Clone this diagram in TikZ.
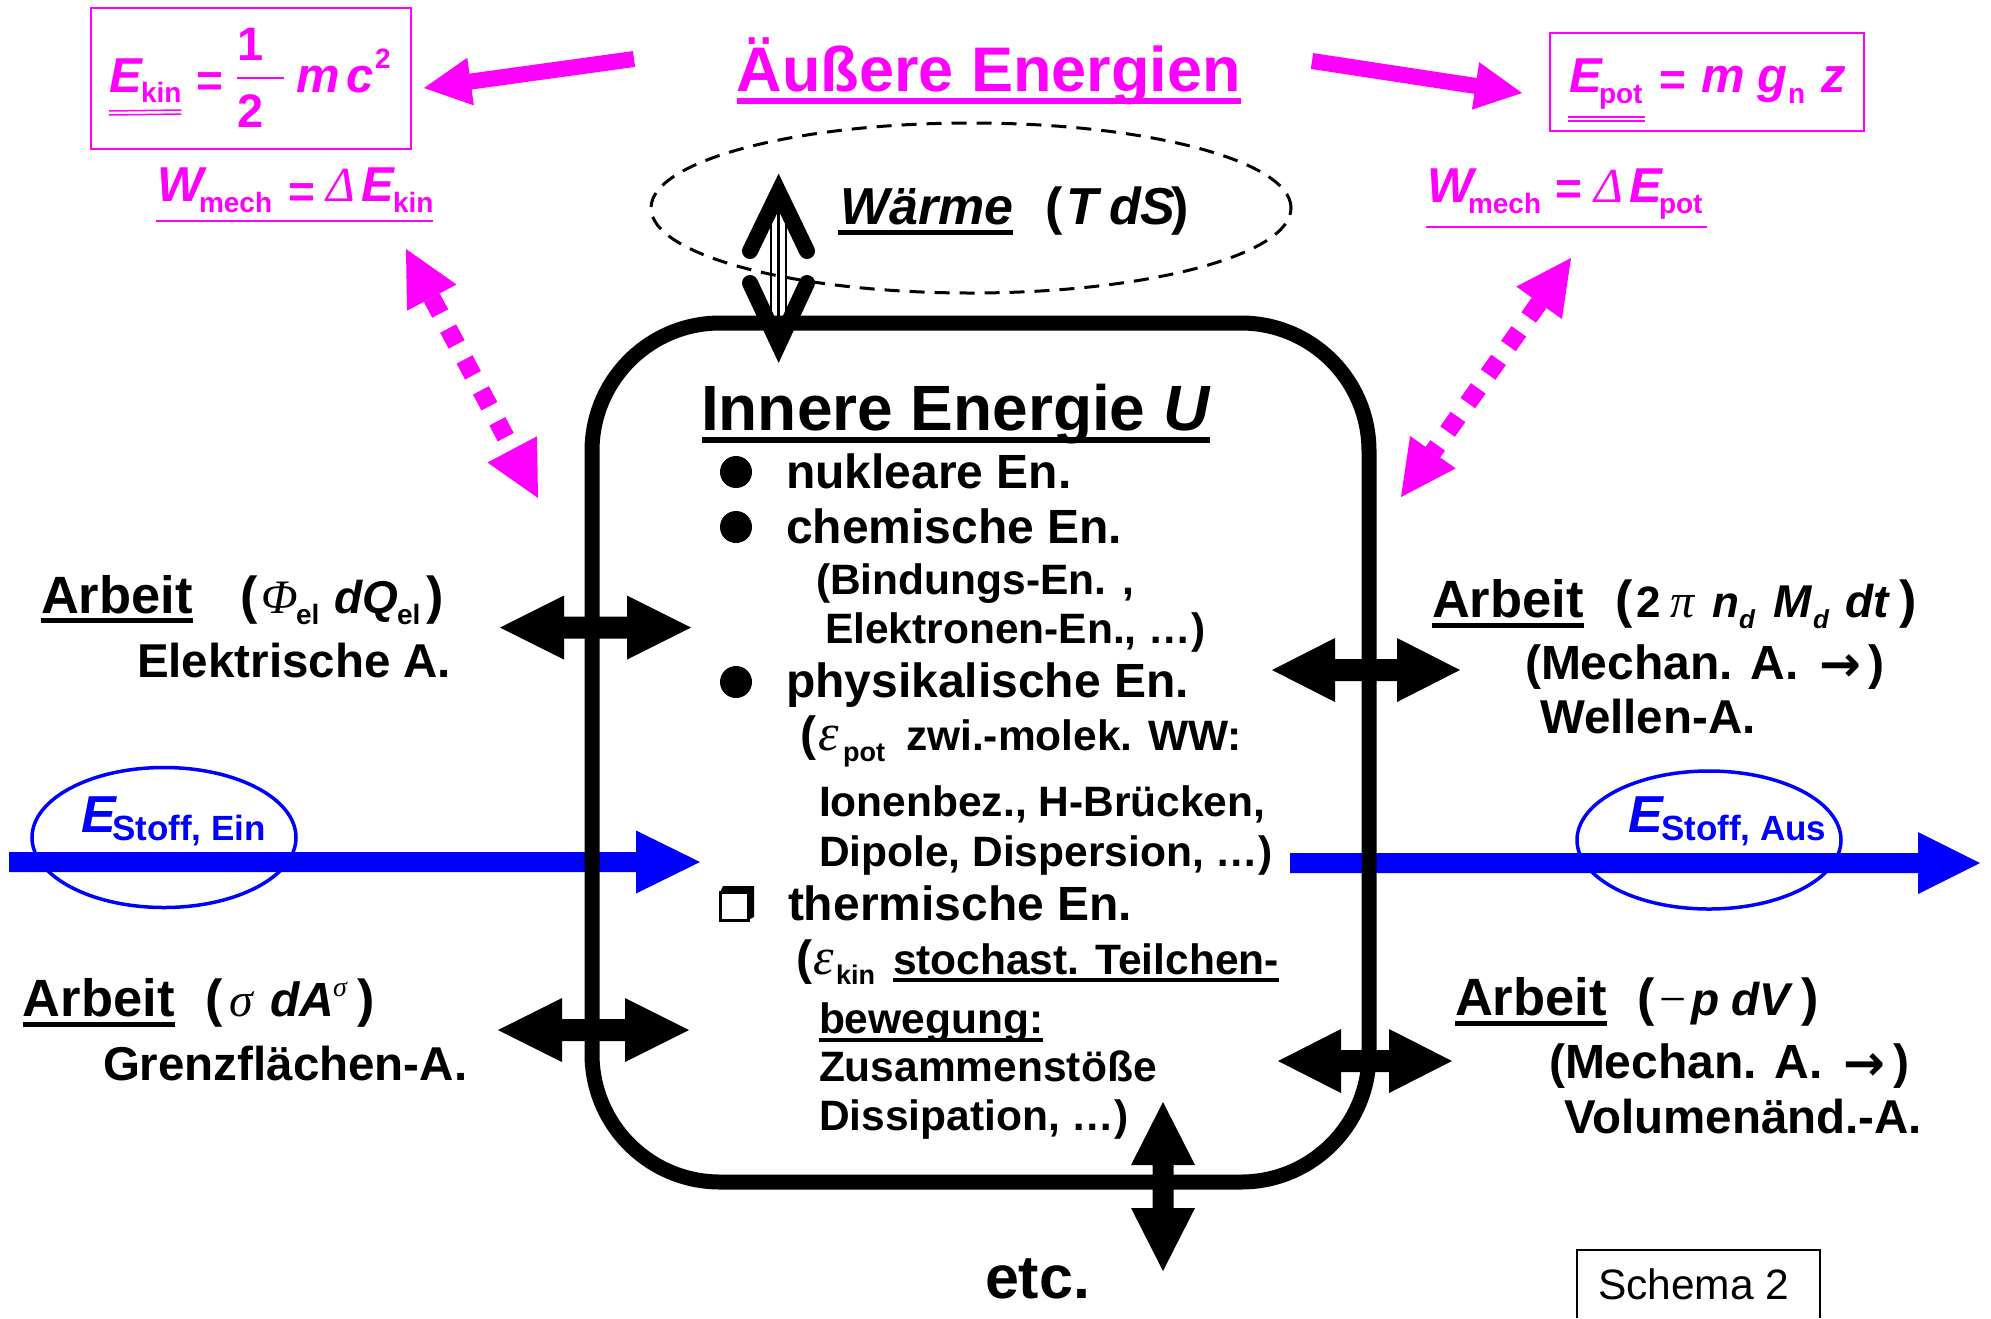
\documentclass[tikz,border=0pt]{standalone}
\usepackage{fontspec}
\setmainfont{Liberation Sans}
\newfontfamily\grk{Liberation Serif}
\newfontfamily\dvs{DejaVu Sans}
\usetikzlibrary{calc}
\definecolor{mag}{RGB}{255,0,255}
\definecolor{blu}{RGB}{0,0,255}
\newcommand\fs[1]{\fontsize{#1}{#1}\selectfont}
% horizontal double block arrow: y, xleft, xright, head length
\newcommand\harr[4]{%
 \fill (#2,#1) -- ({#2+#4},{#1-32}) -- ({#2+#4},{#1-11}) -- ({#3-#4},{#1-11}) -- ({#3-#4},{#1-32}) -- (#3,#1)
  -- ({#3-#4},{#1+32}) -- ({#3-#4},{#1+11}) -- ({#2+#4},{#1+11}) -- ({#2+#4},{#1+32}) -- cycle;}
% vertical double block arrow: x, ytop, ybottom, head length
\newcommand\varr[4]{%
 \fill (#1,#2) -- ({#1-32},{#2+#4}) -- ({#1-10.5},{#2+#4}) -- ({#1-10.5},{#3-#4}) -- ({#1-32},{#3-#4}) -- (#1,#3)
  -- ({#1+32},{#3-#4}) -- ({#1+10.5},{#3-#4}) -- ({#1+10.5},{#2+#4}) -- ({#1+32},{#2+#4}) -- cycle;}
% slanted block arrow from tail #1 to tip #2
\newcommand\polyarrow[6]{%
 \coordinate (#6c) at ($(#2)!#4!(#1)$);
 \fill ($(#1)!#3!90:(#2)$) -- ($(#6c)!#3!90:(#2)$) -- ($(#6c)!#5!90:(#2)$) -- (#2)
  -- ($(#6c)!#5!-90:(#2)$) -- ($(#6c)!#3!-90:(#2)$) -- ($(#1)!#3!-90:(#2)$) -- cycle;}
% dotted double arrow between tips #1 and #2
\newcommand\dotarrow[3]{%
 \coordinate (#3a) at ($(#1)!55pt!(#2)$);
 \coordinate (#3b) at ($(#2)!55pt!(#1)$);
 \fill (#1) -- ($(#3a)!28pt!90:(#1)$) -- ($(#3a)!28pt!-90:(#1)$) -- cycle;
 \fill (#2) -- ($(#3b)!28pt!90:(#2)$) -- ($(#3b)!28pt!-90:(#2)$) -- cycle;
 \draw[line width=18pt, dash pattern=on 18pt off 17pt] (#3a) -- (#3b);}
\begin{document}
\begin{tikzpicture}[x=1pt,y=-1pt,
  T/.style={inner sep=0pt, outer sep=0pt, anchor=base west},
  B/.style={T, font=\fs{#1}\bfseries},
  BI/.style={T, font=\fs{#1}\bfseries\itshape},
  G/.style={T, font=\fs{#1}\grk\itshape},
  AR/.style={T, font=\fs{#1}\dvs\bfseries}]
\useasboundingbox (0,0) rectangle (1991,1318);
\fill[white] (0,0) rectangle (1991,1318);

% ---------- blue matter flows ----------
\fill[blu] (9,852) -- (636,852) -- (636,830.5) -- (700,862) -- (636,893.5) -- (636,872) -- (9,872) -- cycle;
\fill[blu] (1290,853) -- (1918,853) -- (1918,832) -- (1980,863) -- (1918,894) -- (1918,873) -- (1290,873) -- cycle;
\draw[blu, line width=3.5pt] (164,837.5) ellipse [x radius=132pt, y radius=70pt];
\draw[blu, line width=3.5pt] (1709,840) ellipse [x radius=132pt, y radius=69pt];
\node[BI=52, blu] (esE) at (81,832) {E};
\node[B=35, blu] (esS) at (112,840) {Stoff, Ein};
\node[BI=52, blu] (eaE) at (1628,832) {E};
\node[B=35, blu] (eaS) at (1661,840) {Stoff, Aus};

% ---------- system boundary ----------
\draw[line width=15pt, rounded corners=128pt] (592,323) rectangle (1369,1182);

% ---------- work arrows ----------
\harr{627.5}{500}{691}{64}
\harr{1030}{498}{689}{64}
\harr{670}{1272}{1460}{63}
\harr{1061}{1278}{1452}{63}
\varr{1163}{1102}{1271}{63}

% ---------- heat ----------
\draw[line width=3pt, dash pattern=on 15pt off 10pt] (971,208) ellipse [x radius=320pt, y radius=85pt];
\draw[line width=16pt, line cap=round, line join=miter] (750,251) -- (778.6,192) -- (807,251);
\draw[line width=16pt, line cap=round, line join=miter] (750,283) -- (778.6,344) -- (807,283);
\draw[line width=2.5pt] (771,208) -- (771,325) (778.6,208) -- (778.6,325) (786,208) -- (786,325);
\node[BI=52] (wae) at (840,224) {Wärme};
\draw[line width=5pt] ($(wae.base west)+(-2,8)$) -- ($(wae.base east)+(0,8)$);
\node[B=52] (wap1) at (1045,224) {(};
\node[BI=52] (waT) at (1066,224) {T};
\node[BI=52] (wadS) at (1109,224) {dS};
\node[B=52] (wap2) at (1171,224) {)};

% ---------- magenta: external energies ----------
\begin{scope}[mag]
\node[B=63, anchor=base] (ae) at (989,91) {Äußere Energien};
\draw[line width=6pt] ($(ae.base west)+(0,10)$) -- ($(ae.base east)+(0,10)$);
\coordinate (mlA) at (634,59); \coordinate (mlB) at (424,88);
\coordinate (mrA) at (1312,61); \coordinate (mrB) at (1522,93);
\polyarrow{mlA}{mlB}{8pt}{47pt}{24pt}{ml}
\polyarrow{mrA}{mrB}{8pt}{47pt}{24pt}{mr}
% kinetic
\draw[line width=2.5pt] (91,8) rectangle (411,149);
\node[BI=49] (ekE) at (109,92) {E};
\node[B=28] (ekkin) at (141,102) {kin};
\draw[line width=1.5pt] ($(ekE.base west)+(0,19)$) -- ($(ekkin.base east)+(0,8)$)
                         ($(ekE.base west)+(0,23)$) -- ($(ekkin.base east)+(0,12)$);
\node[B=46] (ekeq) at (196,96) {=};
\node[B=47, anchor=base] (ek1) at (251,60) {1};
\node[B=47, anchor=base] (ek2) at (251,127) {2};
\draw[line width=2pt] (237,78) -- (284,78);
\node[BI=49] (ekm) at (296,92) {m};
\node[BI=49] (ekc) at (346,92) {c};
\node[B=28] (eksq) at (375,68) {2};
\node[BI=49] (wlW) at (157,201) {W};
\node[B=28] (wlmech) at (199,212) {mech};
\node[B=46] (wleq) at (288,207) {=};
\node[G=49] (wlD) at (326,201) {Δ};
\node[BI=49] (wlE) at (361,201) {E};
\node[B=28] (wlkin) at (393,212) {kin};
\draw[line width=2.5pt] ($(wlW.base west)+(-1,20)$) -- ($(wlkin.base east)+(0,9)$);
% potential
\draw[line width=2.5pt] (1550,33) rectangle (1864,131);
\node[BI=49] (epE) at (1569,92) {E};
\node[B=28] (eppot) at (1599,103) {pot};
\draw[line width=1.5pt] ($(epE.base west)+(-1,25)$) -- ($(eppot.base east)+(2,14)$)
                         ($(epE.base west)+(-1,29)$) -- ($(eppot.base east)+(2,18)$);
\node[B=46] (epeq) at (1659,95.5) {=};
\node[BI=49] (epm) at (1701,92) {m};
\node[BI=49] (epg) at (1757,92) {g};
\node[B=28] (epn) at (1788,103) {n};
\node[BI=49] (epz) at (1821,92) {z};
\node[BI=49] (wrW) at (1427,202) {W};
\node[B=28] (wrmech) at (1468,213) {mech};
\node[B=46] (wreq) at (1555,204.5) {=};
\node[G=49] (wrD) at (1594,202) {Δ};
\node[BI=49] (wrE) at (1629,202) {E};
\node[B=28] (wrpot) at (1659,213) {pot};
\draw[line width=2.5pt] ($(wrW.base west)+(-1,25)$) -- ($(wrpot.base east)+(4,14)$);
% dotted exchange arrows
\coordinate (dl1) at (406,249); \coordinate (dl2) at (538,498);
\coordinate (dr1) at (1571,258); \coordinate (dr2) at (1401,497);
\dotarrow{dl1}{dl2}{dl}
\dotarrow{dr1}{dr2}{dr}
\end{scope}

% ---------- inner energy ----------
\node[B=64] (inn) at (701,430) {Innere Energie \itshape U};
\draw[line width=6pt] ($(inn.base west)+(1,10)$) -- ($(inn.base east)+(0,10)$);
\fill (736,472) circle [radius=16pt];
\fill (736,527) circle [radius=16pt];
\fill (736,682) circle [radius=16pt];
\node[B=48] (i1) at (786,488) {nukleare En.};
\node[B=48] (i2) at (786,543) {chemische En.};
\node[B=42.5] (i2a) at (816,594) {(Bindungs-En. ,};
\node[B=42.5] (i2b) at (825,643) {Elektronen-En., …)};
\node[B=48] (i3) at (786,697) {physikalische En.};
\node[B=48] (i3p) at (800,750) {(};
\node[G=52] (i3e) at (818,750) {ε};
\node[B=27] (i3pot) at (843,761) {pot};
\node[B=42.5] (i3a) at (906,750) {zwi.-molek. WW:};
\node[B=42.5] (i3b) at (819,816) {Ionenbez., H-Brücken,};
\node[B=42.5] (i3c) at (819,866) {Dipole, Dispersion, …)};
\draw[line width=3pt] (720,892) rectangle (748,920);
\fill (723,886) -- (754,886) -- (754,917) -- (748,920) -- (748,892) -- (720,892) -- cycle;
\node[B=48] (i4) at (788,920) {thermische En.};
\node[B=48] (i4p) at (796,974) {(};
\node[G=52] (i4e) at (813,974) {ε};
\node[B=27] (i4kin) at (836,984) {kin};
\node[B=42.5] (i4a) at (893,974) {stochast. Teilchen-};
\draw[line width=4pt] ($(i4a.base west)+(0,6)$) -- ($(i4a.base east)+(0,6)$);
\node[B=42.5] (i4b) at (819,1033) {bewegung:};
\draw[line width=4pt] ($(i4b.base west)+(0,7)$) -- ($(i4b.base east)+(0,7)$);
\node[B=42.5] (i4c) at (819,1081) {Zusammenstöße};
\node[B=42.5] (i4d) at (819,1130) {Dissipation, …)};
\node[B=61] (etc) at (985,1298) {etc.};

% ---------- work labels ----------
\node[B=52.5] (a1) at (41,613) {Arbeit};
\draw[line width=5pt] ($(a1.base west)+(0,7.5)$) -- ($(a1.base east)+(0,7.5)$);
\node[B=52] (a1p1) at (240,613) {(};
\node[G=48] (a1phi) at (261,613) {Φ};
\node[B=28] (a1el) at (296,624) {el};
\node[BI=46] (a1dQ) at (334,613) {dQ};
\node[B=28] (a1el2) at (397,624) {el};
\node[B=52] (a1p2) at (426,613) {)};
\node[B=47.5] (a1t) at (137,677) {Elektrische A.};

\node[B=52.5] (a2) at (23,1016) {Arbeit};
\draw[line width=5pt] ($(a2.base west)+(0,8)$) -- ($(a2.base east)+(0,8)$);
\node[B=52] (a2p1) at (205,1016) {(};
\node[G=48] (a2s) at (229,1016) {σ};
\node[BI=48] (a2dA) at (270,1016) {dA};
\node[G=28] (a2s2) at (333,996) {σ};
\node[B=52] (a2p2) at (357,1016) {)};
\node[B=47.5] (a2t) at (103,1080) {Grenzflächen-A.};

\node[B=52.5] (a3) at (1432,617) {Arbeit};
\draw[line width=5pt] ($(a3.base west)+(0,8)$) -- ($(a3.base east)+(0,8)$);
\node[B=52] (a3p1) at (1615,617) {(};
\node[B=44] (a3two) at (1636,617) {2};
\node[G=48] (a3pi) at (1670,617) {π};
\node[BI=44] (a3n) at (1712,617) {n};
\node[BI=26] (a3d1) at (1739,628) {d};
\node[BI=46] (a3M) at (1773,617) {M};
\node[BI=26] (a3d2) at (1813,628) {d};
\node[BI=46] (a3dt) at (1845,617) {dt};
\node[B=52] (a3p2) at (1899,617) {)};
\node[B=48] (a3m) at (1525,679) {(Mechan. A.};
\node[AR=50] (a3ar) at (1819,681) {→};
\node[B=48] (a3p3) at (1868,679) {)};
\node[B=47.5] (a3t) at (1540,733) {Wellen-A.};

\node[B=52.5] (a4) at (1455,1015) {Arbeit};
\draw[line width=5pt] ($(a4.base west)+(0,8)$) -- ($(a4.base east)+(0,8)$);
\node[B=52] (a4p1) at (1637,1015) {(};
\node[T, font=\fs{48}\grk] (a4mi) at (1659,1015) {−};
\node[BI=46] (a4p) at (1691,1015) {p};
\node[BI=46] (a4dV) at (1731,1015) {dV};
\node[B=52] (a4p2) at (1801,1015) {)};
\node[B=48] (a4mm) at (1549,1078) {(Mechan. A.};
\node[AR=50] (a4ar) at (1843,1080) {→};
\node[B=48] (a4p3) at (1893,1078) {)};
\node[B=47.5] (a4t) at (1564,1133) {Volumenänd.-A.};

% ---------- label box ----------
\node[T, font=\fs{42.5}] (sch) at (1598,1299) {Schema 2};
\draw[line width=2pt] (1577,1318) -- (1577,1250) -- (1820,1250) -- (1820,1318);
\end{tikzpicture}
\end{document}
